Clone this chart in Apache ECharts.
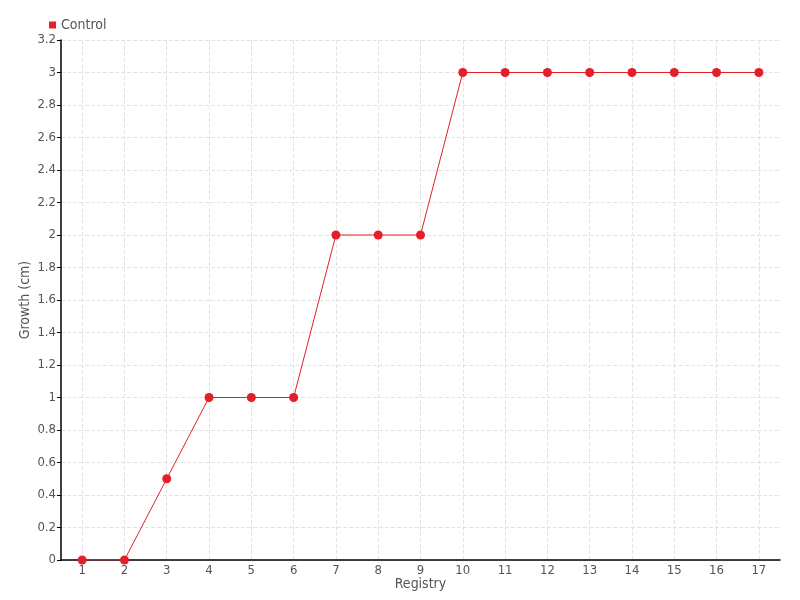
<!DOCTYPE html>
<html><head><meta charset="utf-8">
<script src="https://cdn.jsdelivr.net/npm/echarts@6/dist/echarts.min.js"></script>
<style>html,body{margin:0;padding:0;background:#fff}#c{width:800px;height:600px}</style>
</head><body><div id="c"></div>
<script>
const categories = ['1','2','3','4','5','6','7','8','9','10','11','12','13','14','15','16','17'];
const controlValues = [0,0,0.5,1,1,1,2,2,2,3,3,3,3,3,3,3,3];
const seriesName = 'Control';
const FONT = "'Liberation Sans Narrow', 'DejaVu Sans Condensed', sans-serif";
const L = 61, R = 20, T = 40, B = 40;
const half = (800 - L - R) / categories.length / 2;
const chart = echarts.init(document.getElementById('c'));
chart.setOption({
  animation: false,
  textStyle: {fontFamily: FONT},
  legend: {left: 44, top: 13, itemWidth: 7, itemHeight: 7, icon: 'rect', itemGap: 4,
    textStyle: {fontFamily: FONT, fontSize: 14, color: '#555'}, data: [seriesName]},
  grid: [
    {left: L + half, right: R + half, top: T, bottom: B, outerBoundsMode: 'none', containLabel: false},
    {left: L, right: R, top: T, bottom: B, outerBoundsMode: 'none', containLabel: false}
  ],
  xAxis: [
    {type: 'category', gridIndex: 0, data: categories, boundaryGap: false,
      axisLine: {show: false}, axisTick: {show: false}, axisLabel: {show: false},
      splitLine: {show: true, lineStyle: {type: 'dashed', color: '#e4e4e4'}}},
    {type: 'category', gridIndex: 1, data: categories, boundaryGap: true,
    name: 'Registry', nameLocation: 'middle', nameGap: 17, nameMoveOverlap: false,
    nameTextStyle: {fontFamily: FONT, fontSize: 14, color: '#555'},
    axisLine: {lineStyle: {color: '#000', width: 1.5}},
    axisTick: {alignWithLabel: true, lineStyle: {color: '#000'}, length: 4},
    axisLabel: {fontFamily: FONT, fontSize: 13, color: '#555', margin: 4},
    splitLine: {show: false}}
  ],
  yAxis: [
    {type: 'value', gridIndex: 0, min: 0, max: 3.2, interval: 0.2, show: false,
      splitLine: {show: false}},
    {type: 'value', gridIndex: 1, min: 0, max: 3.2, interval: 0.2,
    name: 'Growth (cm)', nameLocation: 'middle', nameGap: 29, nameMoveOverlap: false,
    nameTextStyle: {fontFamily: FONT, fontSize: 14, color: '#555'},
    axisLine: {show: true, lineStyle: {color: '#000', width: 1.5}},
    axisTick: {show: true, lineStyle: {color: '#000'}, length: 4},
    axisLabel: {fontFamily: FONT, fontSize: 13, color: '#555', margin: 5,
      formatter: v => String(Math.round(v*10)/10)},
    splitLine: {show: true, lineStyle: {type: 'dashed', color: '#e4e4e4'}}}
  ],
  series: [{name: seriesName, type: 'line', xAxisIndex: 1, yAxisIndex: 1, data: controlValues, color: '#e3202a',
    symbol: 'circle', symbolSize: 9, lineStyle: {width: 1}}]
});
</script></body></html>
